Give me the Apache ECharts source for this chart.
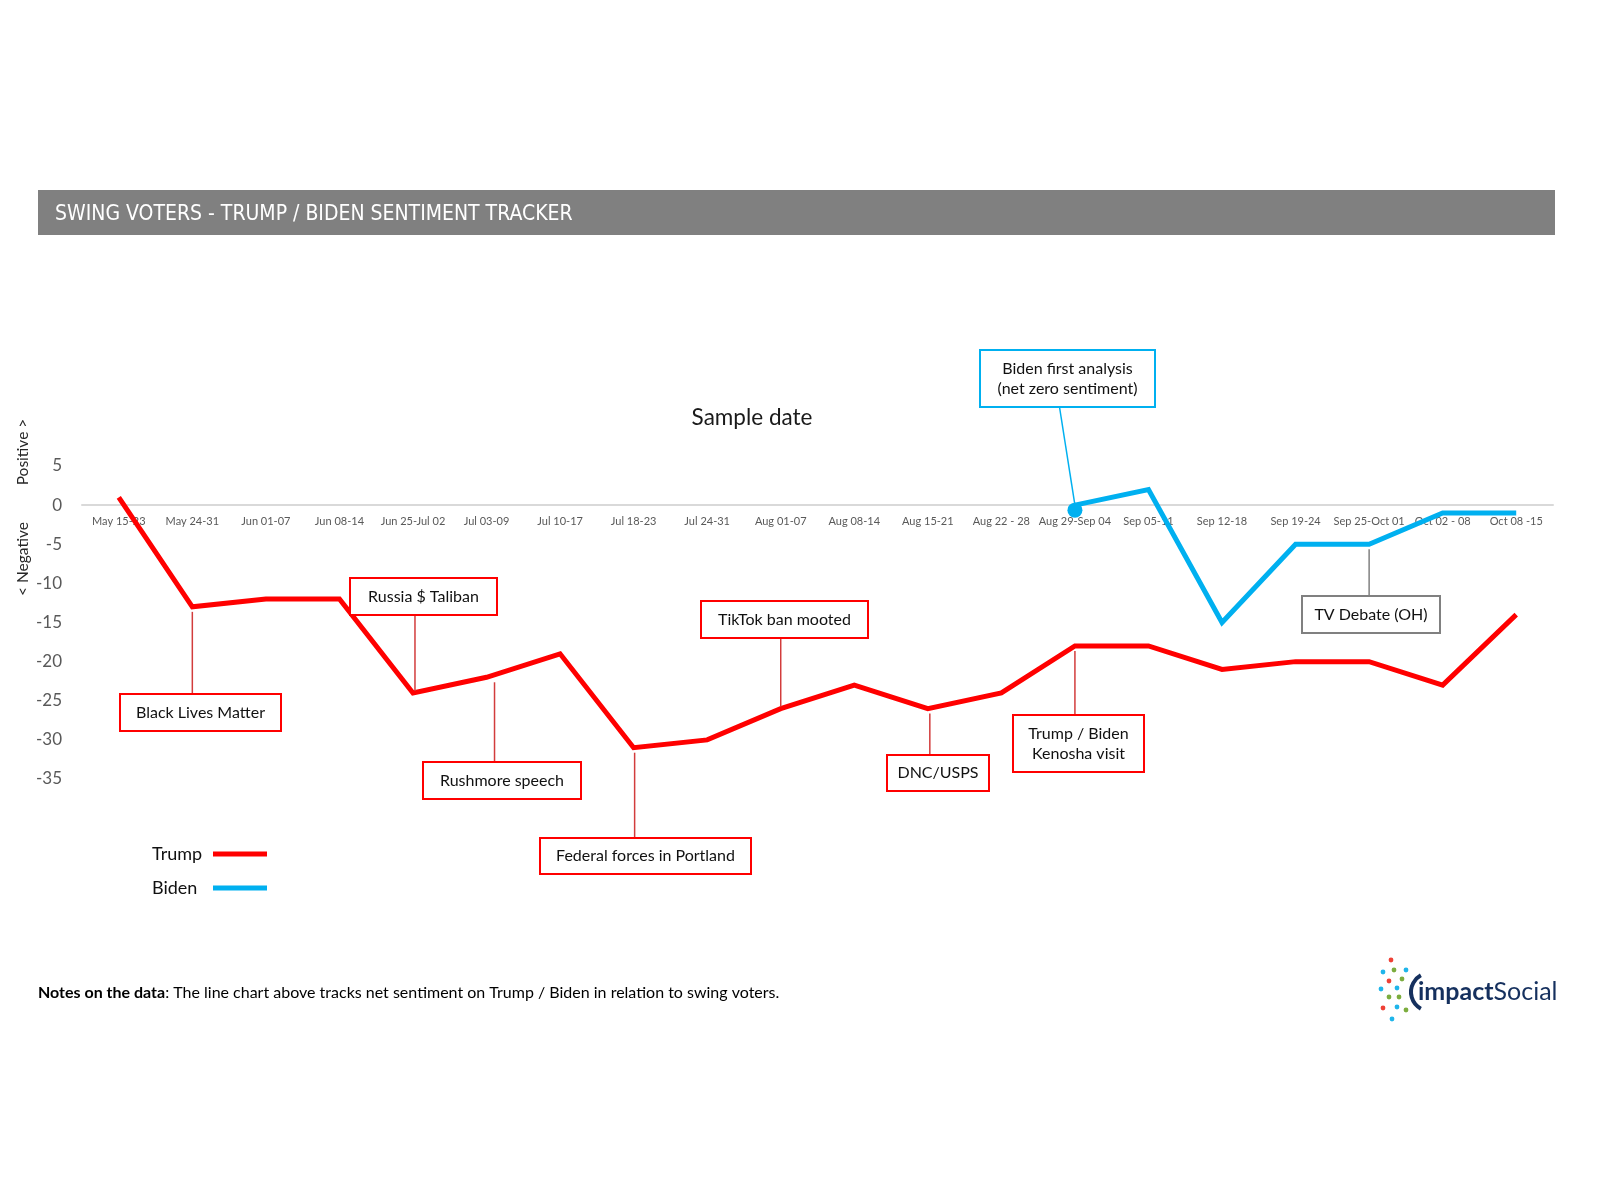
<!DOCTYPE html>
<html><head><meta charset="utf-8">
<script src="https://cdn.jsdelivr.net/npm/echarts@6/dist/echarts.min.js"></script>
<style>html,body{margin:0;padding:0;background:#fff}#c{width:1600px;height:1200px}</style>
</head><body><div id="c"></div>
<script>
// ---------- data ----------
const categories = ["May 15-23","May 24-31","Jun 01-07","Jun 08-14","Jun 25-Jul 02","Jul 03-09","Jul 10-17","Jul 18-23","Jul 24-31","Aug 01-07","Aug 08-14","Aug 15-21","Aug 22 - 28","Aug 29-Sep 04","Sep 05-11","Sep 12-18","Sep 19-24","Sep 25-Oct 01","Oct 02 - 08","Oct 08 -15"];
const trumpValues = [1,-13,-12,-12,-24,-22,-19,-31,-30,-26,-23,-26,-24,-18,-18,-21,-20,-20,-23,-14];
const bidenValues = [null,null,null,null,null,null,null,null,null,null,null,null,null,0,2,-15,-5,-5,-1,-1];
const yMin = -35, yMax = 5, yStep = 5;
const annotationTexts = ["Black Lives Matter","Russia $ Taliban","Rushmore speech","Federal forces in Portland","TikTok ban mooted","DNC/USPS","Trump / Biden\nKenosha visit","Biden first analysis\n(net zero sentiment)","TV Debate (OH)"];
const annotationSeries = [0,0,0,0,0,0,0,1,1];
const annotationIndex = [1,4,5,7,9,11,13,13,17];
const titleText = "SWING VOTERS - TRUMP / BIDEN SENTIMENT TRACKER";
const notesBold = "Notes on the data";
const notesText = ": The line chart above tracks net sentiment on Trump / Biden in relation to swing voters.";

// ---------- layout ----------
const FONT = 'Lato, "Open Sans", sans-serif';
const GRID_TOP = 466, GRID_BOTTOM = 421;
const annotationLayout = [
  {box:[120,694,161,37], side:'below', dx:0,  color:'#ff0000', line:'#d23c3c'},
  {box:[350,578,147,37], side:'above', dx:2,  color:'#ff0000', line:'#d23c3c'},
  {box:[423,762,158,37], side:'below', dx:8,  color:'#ff0000', line:'#d23c3c'},
  {box:[540,838,211,36], side:'below', dx:1,  color:'#ff0000', line:'#d23c3c'},
  {box:[701,601,167,37], side:'above', dx:0,  color:'#ff0000', line:'#d23c3c'},
  {box:[887,755,102,36], side:'below', dx:2,  color:'#ff0000', line:'#d23c3c'},
  {box:[1013,715,131,57], side:'below', dx:0, color:'#ff0000', line:'#d23c3c'},
  {box:[980,350,175,57], side:'slant', dx:-8, color:'#00b0f0', line:'#00b0f0'},
  {box:[1302,596,138,37], side:'below', dx:0, color:'#808080', line:'#808080'}
];

const chart = echarts.init(document.getElementById('c'));
const bidenFirst = bidenValues.findIndex(v => v !== null);
const option = {
  animation: false,
  backgroundColor: '#ffffff',
  grid: {left: 82, right: 47, top: GRID_TOP, bottom: GRID_BOTTOM},
  legend: {
    data: ['Trump','Biden'], orient: 'vertical', left: 147, top: 840,
    align: 'right', icon: 'rect', itemWidth: 54, itemHeight: 5, itemGap: 16,
    formatter: name => '{a|' + name + '}',
    textStyle: {fontSize: 18, color: '#111', fontFamily: FONT,
      rich: {a: {width: 56, align: 'left', fontSize: 18, color: '#111', fontFamily: FONT}}}
  },
  xAxis: {
    type: 'category', data: categories, boundaryGap: true,
    axisLine: {onZero: true, lineStyle: {color: '#d9d9d9', width: 2}},
    axisTick: {show: false},
    axisLabel: {interval: 0, color: '#595959', fontSize: 11, margin: 11, fontFamily: FONT}
  },
  yAxis: {
    type: 'value', min: yMin, max: yMax, interval: yStep,
    splitLine: {show: false}, axisLine: {show: false}, axisTick: {show: false},
    axisLabel: {color: '#595959', fontSize: 17, margin: 20, fontFamily: FONT}
  },
  series: [
    {name: 'Trump', type: 'line', data: trumpValues, symbol: 'none', z: 3,
     lineStyle: {color: '#ff0000', width: 5, join: 'miter'}, itemStyle: {color: '#ff0000'}},
    {name: 'Biden', type: 'line', symbol: 'none', z: 3,
     data: bidenValues.map((v, i) => i === bidenFirst ? {value: v, symbol: 'circle', symbolSize: 15, symbolOffset: [0, 5]} : v),
     lineStyle: {color: '#00b0f0', width: 5, join: 'miter'}, itemStyle: {color: '#00b0f0'}}
  ]
};
chart.setOption(option);

// keep the category labels just under the zero line
const zeroY = chart.convertToPixel({yAxisIndex: 0}, 0);
const bottomY = 1200 - GRID_BOTTOM;
chart.setOption({xAxis: {axisLabel: {margin: 11 - (bottomY - zeroY)}}});

// ---------- graphics ----------
const g = [];
function txt(text, x, y, font, fill, align, valign, rotation) {
  return {type: 'text', z: 20, x: x, y: y, rotation: rotation || 0,
    style: {text: text, x: 0, y: 0, font: font, fill: fill, lineHeight: 20,
      textAlign: align, textVerticalAlign: valign, align: align, verticalAlign: valign}};
}
// title bar
g.push({type: 'rect', z: 10, shape: {x: 38, y: 190, width: 1517, height: 45}, style: {fill: '#808080'}});
g.push(txt(titleText, 55, 215, '21px "Liberation Sans Narrow", "DejaVu Sans Condensed", sans-serif', '#ffffff', 'left', 'middle'));
// axis titles
g.push(txt('Sample date', 752, 418, '22.5px ' + FONT, '#1a1a1a', 'center', 'middle'));
g.push(txt('Positive >', 23, 452, '15.5px ' + FONT, '#262626', 'center', 'middle', Math.PI / 2));
g.push(txt('< Negative', 23, 559, '15.5px ' + FONT, '#262626', 'center', 'middle', Math.PI / 2));
// annotations
annotationTexts.forEach((t, i) => {
  const L = annotationLayout[i];
  const si = annotationSeries[i], di = annotationIndex[i];
  const p = chart.convertToPixel({seriesIndex: si}, [di, si === 0 ? trumpValues[di] : bidenValues[di]]);
  const [bx, by, bw, bh] = L.box;
  let x1, y1, x2, y2;
  if (L.side === 'below') { x1 = x2 = p[0] + L.dx; y1 = by; y2 = p[1] + 5; }
  else if (L.side === 'above') { x1 = x2 = p[0] + L.dx; y1 = by + bh; y2 = p[1] - 2; }
  else { x1 = bx + bw / 2 + L.dx; y1 = by + bh; x2 = p[0]; y2 = p[1]; }
  g.push({type: 'line', z: 12, shape: {x1: x1, y1: y1, x2: x2, y2: y2}, style: {stroke: L.line, lineWidth: 1.5}});
  g.push({type: 'rect', z: 14, shape: {x: bx, y: by, width: bw, height: bh}, style: {fill: '#ffffff', stroke: L.color, lineWidth: 2}});
  g.push(txt(t, bx + bw / 2, by + bh / 2, '16px ' + FONT, '#111111', 'center', 'middle'));
});
// notes
g.push({type: 'text', z: 20, style: {x: 38, y: 993, verticalAlign: 'middle', textVerticalAlign: 'middle',
  rich: {b: {font: 'bold 16px ' + FONT, fill: '#000'}, n: {font: '16px ' + FONT, fill: '#000'}},
  text: '{b|' + notesBold + '}{n|' + notesText + '}'}});
// logo
const dots = [[1391,960,'#ef4136'],[1383,972,'#1fb5ea'],[1394,970,'#7cad3e'],[1406,970,'#1fb5ea'],[1389,981,'#ef4136'],[1402,979,'#7cad3e'],[1381,989,'#1fb5ea'],[1397,988,'#1fb5ea'],[1389,997,'#7cad3e'],[1399,997,'#7cad3e'],[1383,1008,'#ef4136'],[1397,1007,'#1fb5ea'],[1406,1010,'#7cad3e'],[1392,1019,'#1fb5ea']];
dots.forEach(d => g.push({type: 'circle', z: 20, shape: {cx: d[0], cy: d[1], r: 2.4}, style: {fill: d[2]}}));
g.push({type: 'arc', z: 20, shape: {cx: 1430, cy: 992, r: 19, startAngle: Math.PI * 0.66, endAngle: Math.PI * 1.34, clockwise: true}, style: {stroke: '#15305e', lineWidth: 4, fill: null}});
g.push({type: 'text', z: 20, style: {x: 1418, y: 992, verticalAlign: 'middle', textVerticalAlign: 'middle',
  rich: {a: {font: 'bold 25px ' + FONT, fill: '#15305e'}, s: {font: '25px ' + FONT, fill: '#15305e'}},
  text: '{a|impact}{s|Social}'}});

chart.setOption({graphic: {elements: g}});
</script></body></html>
